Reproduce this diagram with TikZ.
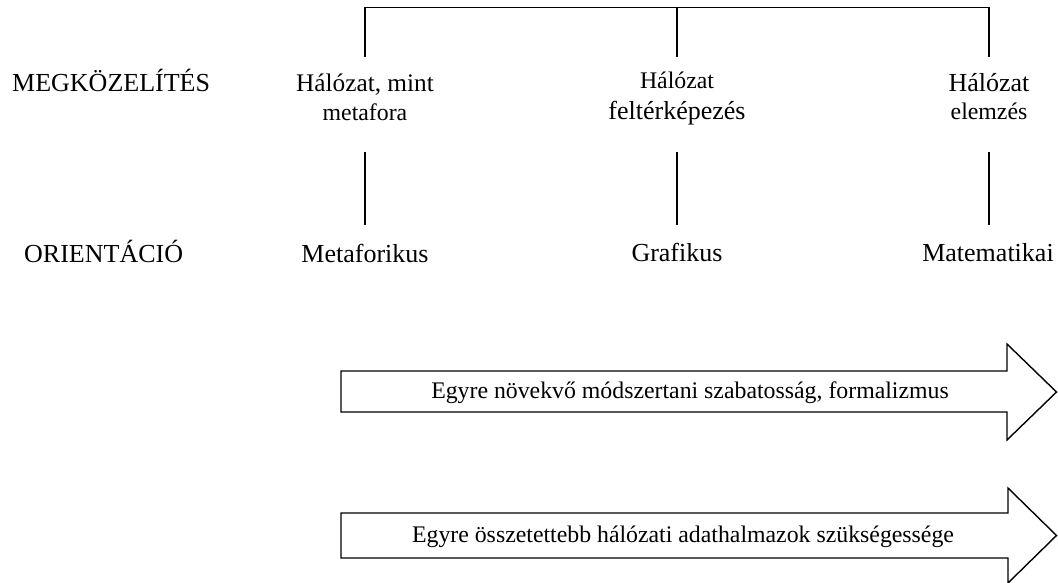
\documentclass[tikz,border=0pt]{standalone}
\usepackage{fontspec}
\setmainfont{Liberation Serif}
\begin{document}
\begin{tikzpicture}[x=1pt,y=-1pt,
  lbl/.style={inner sep=0pt, anchor=base},
  big/.style={lbl, font=\fontsize{26}{30}\selectfont},
  mid/.style={lbl, font=\fontsize{25.3}{30}\selectfont},
  small/.style={lbl, font=\fontsize{23.8}{28}\selectfont},
  arrtext/.style={lbl, font=\fontsize{23.8}{28}\selectfont},
  conn/.style={line width=1.6pt},
  bigarrow/.style={draw, line width=1.4pt, fill=white, line join=miter}]
\useasboundingbox (0,0) rectangle (1058,582);

% row labels
\node[big, anchor=base west] (mk) at (12,91) {MEGKÖZELÍTÉS};
\node[big, anchor=base west] (or) at (24,262) {ORIENTÁCIÓ};

% approaches
\node[mid]   (h1a) at (365,91)    {Hálózat, mint};
\node[small] (h1b) at (365,120)   {metafora};
\node[small] (h2a) at (677,88)    {Hálózat};
\node[big]   (h2b) at (677,119.5) {feltérképezés};
\node[big]   (h3a) at (989,91.5)  {Hálózat};
\node[small] (h3b) at (989,119.5) {elemzés};

% orientations
\node[big] (o1) at (365,262) {Metaforikus};
\node[big] (o2) at (677,261) {Grafikus};
\node[big] (o3) at (988,261) {Matematikai};

% bracket
\coordinate (bt1) at (365,7.3);
\coordinate (bt2) at (677,7.3);
\coordinate (bt3) at (989,7.3);
\coordinate (bb1) at (365,56.5);
\coordinate (bb2) at (677,56.5);
\coordinate (bb3) at (989,56.5);
\draw[conn] (bb1) -- (bt1) -- (bt3) -- (bb3);
\draw[conn] (bt2) -- (bb2);

% connectors approach - orientation
\coordinate (c1t) at (365,152);
\coordinate (c1b) at (365,225);
\coordinate (c2t) at (677,152);
\coordinate (c2b) at (677,225);
\coordinate (c3t) at (989,152);
\coordinate (c3b) at (989,225);
\draw[conn] (c1t) -- (c1b);
\draw[conn] (c2t) -- (c2b);
\draw[conn] (c3t) -- (c3b);

% block arrows
\draw[bigarrow] (341,371) -- (1007,371) -- (1007,344) -- (1056.5,392)
  -- (1007,440) -- (1007,412) -- (341,412) -- cycle;
\node[arrtext] (t1) at (690,398) {Egyre növekvő módszertani szabatosság, formalizmus};

\draw[bigarrow] (341,513) -- (1008,513) -- (1008,488) -- (1056.5,535.5)
  -- (1008,583) -- (1008,558) -- (341,558) -- cycle;
\node[arrtext] (t2) at (683,542) {Egyre összetettebb hálózati adathalmazok szükségessége};
\end{tikzpicture}
\end{document}
